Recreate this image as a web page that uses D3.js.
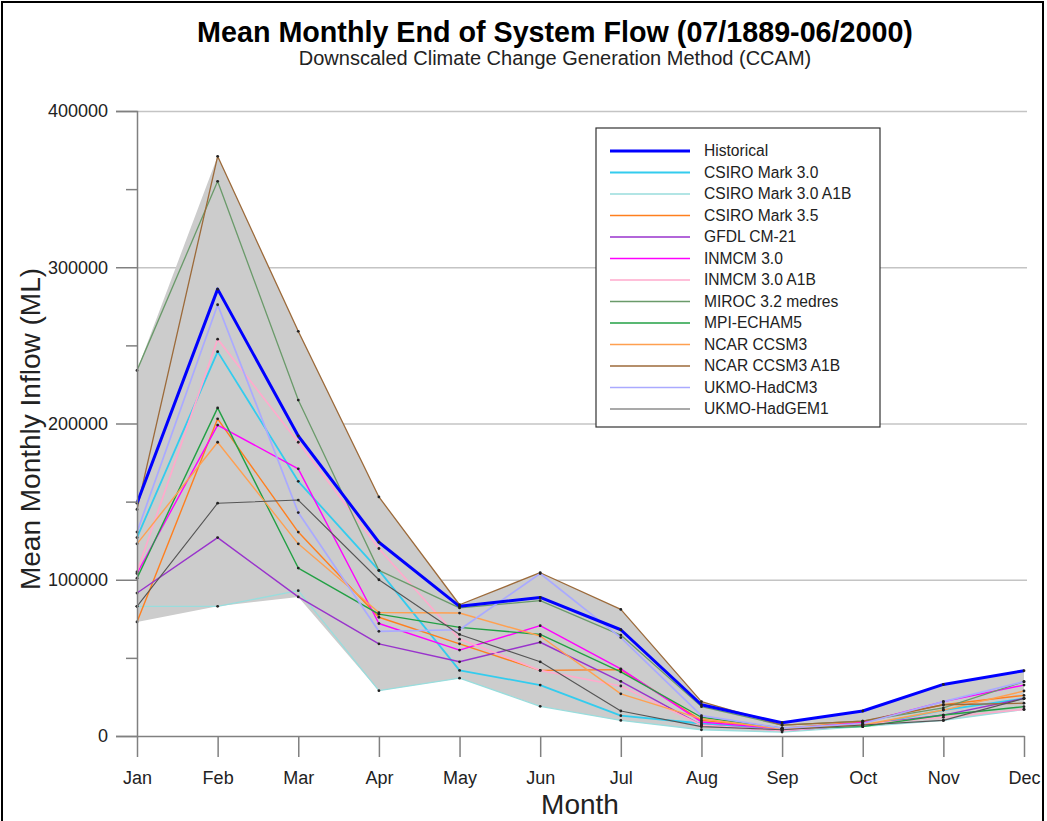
<!DOCTYPE html>
<html>
<head>
<meta charset="utf-8">
<script src="https://cdn.jsdelivr.net/npm/d3@7"></script>
<style>
  body { margin: 0; background: #fff; }
  svg { display: block; font-family: "Liberation Sans", Arial, sans-serif; }
</style>
</head>
<body>
<svg id="chart" width="1047" height="821"></svg>
<script>
// month categories
const months = ["Jan", "Feb", "Mar", "Apr", "May", "Jun", "Jul", "Aug", "Sep", "Oct", "Nov", "Dec"];

// mean monthly inflow (ML) per scenario
const historical = [149000, 286000, 192000, 124000, 83000, 88700, 68000, 20000, 8500, 16000, 33000, 41800];
const csiro30    = [127000, 246000, 163000, 106000, 42000, 32600, 13000, 8000, 4000, 6500, 16600, 24000];
const csiro30A1B = [83000, 83000, 93000, 29000, 37000, 19000, 10000, 4000, 2500, 6000, 10000, 17000];
const csiro35    = [73000, 203000, 130500, 76000, 59000, 42000, 42500, 10000, 5000, 9000, 20000, 26000];
const gfdl       = [91500, 127000, 89000, 59000, 47500, 60000, 35000, 7000, 3500, 7000, 13400, 24000];
const inmcm30    = [104000, 199000, 171000, 72000, 55000, 70600, 43000, 9000, 4500, 8500, 22000, 32600];
const inmcm30A1B = [105000, 254000, 188000, 120000, 62000, 42000, 32000, 7000, 3500, 7500, 12000, 17000];
const miroc      = [234000, 355000, 215000, 106000, 82000, 86600, 64600, 18800, 7000, 9500, 18000, 34800];
const mpi        = [101000, 210000, 107500, 78000, 69500, 65000, 41000, 12000, 5000, 6000, 13400, 18800];
const ncar       = [123000, 188000, 123000, 79000, 78700, 64000, 27000, 11000, 4500, 7000, 16600, 28800];
const ncarA1B    = [145000, 371000, 259000, 153000, 84000, 104500, 81000, 22000, 7000, 9500, 20000, 21000];
const hadcm3     = [130500, 276000, 143000, 67000, 68000, 104000, 63000, 13000, 5000, 8000, 22000, 34800];
const hadgem1    = [83000, 149000, 151000, 100000, 65000, 47500, 16000, 6000, 4000, 7000, 10000, 24000];

const seriesNames = [
  "Historical", "CSIRO Mark 3.0", "CSIRO Mark 3.0 A1B", "CSIRO Mark 3.5", "GFDL CM-21",
  "INMCM 3.0", "INMCM 3.0 A1B", "MIROC 3.2 medres", "MPI-ECHAM5", "NCAR CCSM3",
  "NCAR CCSM3 A1B", "UKMO-HadCM3", "UKMO-HadGEM1"
];
const seriesValues = [
  historical, csiro30, csiro30A1B, csiro35, gfdl, inmcm30, inmcm30A1B,
  miroc, mpi, ncar, ncarA1B, hadcm3, hadgem1
];
const yTicks = [0, 100000, 200000, 300000, 400000];
const yMinorTicks = [50000, 150000, 250000, 350000];

// styles
const colors = [
  "#0000ff", "#33ccee", "#99dddd", "#ff7f1e", "#9933cc", "#ff00ff", "#ffaacc",
  "#6a9a6a", "#22a044", "#ffa050", "#9c6a3a", "#aaaaff", "#555555"
];
const widths = [3, 1.8, 1.3, 1.4, 1.4, 1.4, 1.7, 1.3, 1.4, 1.4, 1.3, 1.7, 1.1];

const svg = d3.select("#chart");
const margin = { top: 111, left: 137 };
const plotW = 1024 - 137;
const plotH = 736 - 111;

const series = seriesNames.map((name, i) => ({
  name,
  color: colors[i],
  width: widths[i],
  values: seriesValues[i].map((v, j) => ({ month: months[j], value: v }))
}));

const x = d3.scalePoint().domain(months).range([0, plotW]);
const y = d3.scaleLinear().domain([0, 400000]).range([plotH, 0]);

const g = svg.append("g")
  .attr("transform", `translate(${margin.left},${margin.top})`);

// horizontal grid
g.append("g")
  .call(d3.axisLeft(y).tickValues(yTicks.slice(1)).tickSize(-(plotW + 3)).tickFormat(""))
  .call(s => s.select(".domain").remove())
  .selectAll("line")
  .attr("stroke", "#c4c4c4")
  .attr("stroke-width", 1.5);

// envelope of all scenarios
const envelope = months.map((m, j) => ({
  month: m,
  lo: d3.min(seriesValues, s => s[j]),
  hi: d3.max(seriesValues, s => s[j])
}));

g.append("path")
  .datum(envelope)
  .attr("fill", "#cccccc")
  .attr("d", d3.area()
    .x(d => x(d.month))
    .y0(d => y(d.lo))
    .y1(d => y(d.hi)));

// lines, historical on top
const drawOrder = series.slice(1).concat(series[0]);
const line = d3.line().x(d => x(d.month)).y(d => y(d.value));

drawOrder.forEach(s => {
  g.append("path")
    .datum(s.values)
    .attr("fill", "none")
    .attr("stroke", s.color)
    .attr("stroke-width", s.width)
    .attr("stroke-linejoin", "round")
    .attr("d", line);
});

// point markers
drawOrder.forEach(s => {
  g.selectAll(null)
    .data(s.values)
    .enter()
    .append("circle")
    .attr("cx", d => x(d.month))
    .attr("cy", d => y(d.value))
    .attr("r", 1.4)
    .attr("fill", "#222");
});

// y axis, major and minor ticks
const yAxisG = g.append("g")
  .call(d3.axisLeft(y).tickValues(yTicks).tickSize(21).tickPadding(8).tickFormat(d3.format("d")));
yAxisG.select(".domain").attr("stroke", "#808080").attr("stroke-width", 1.5);
yAxisG.selectAll("line").attr("stroke", "#808080").attr("stroke-width", 1.5);
yAxisG.selectAll("text").attr("font-size", 18).attr("fill", "#222");

g.append("g")
  .call(d3.axisLeft(y).tickValues(yMinorTicks).tickSize(11).tickFormat(""))
  .call(s => s.select(".domain").remove())
  .selectAll("line").attr("stroke", "#808080").attr("stroke-width", 1.5);

// x axis
const xAxisG = g.append("g")
  .attr("transform", `translate(0,${plotH})`)
  .call(d3.axisBottom(x).tickSize(21).tickPadding(14).tickSizeOuter(0));
xAxisG.select(".domain").attr("stroke", "#808080").attr("stroke-width", 1.5);
xAxisG.selectAll("line").attr("stroke", "#808080").attr("stroke-width", 1.5);
xAxisG.selectAll("text").attr("font-size", 18).attr("fill", "#222");

// titles
svg.append("text")
  .attr("x", 555).attr("y", 42)
  .attr("text-anchor", "middle")
  .attr("font-size", 28.7).attr("font-weight", "bold")
  .text("Mean Monthly End of System Flow (07/1889-06/2000)");

svg.append("text")
  .attr("x", 555).attr("y", 65)
  .attr("text-anchor", "middle")
  .attr("font-size", 20).attr("fill", "#222")
  .text("Downscaled Climate Change Generation Method (CCAM)");

svg.append("text")
  .attr("transform", "translate(40,429) rotate(-90)")
  .attr("text-anchor", "middle")
  .attr("font-size", 28).attr("fill", "#222")
  .text("Mean Monthly Inflow (ML)");

svg.append("text")
  .attr("x", 580).attr("y", 814)
  .attr("text-anchor", "middle")
  .attr("font-size", 28).attr("fill", "#222")
  .text("Month");

// legend
const legend = svg.append("g").attr("transform", "translate(596,128)");
legend.append("rect")
  .attr("width", 284).attr("height", 299)
  .attr("fill", "#fff")
  .attr("stroke", "#333").attr("stroke-width", 1.2);

const rows = legend.selectAll("g.row")
  .data(series)
  .enter()
  .append("g")
  .attr("class", "row")
  .attr("transform", (d, i) => `translate(0,${23 + i * 21.5})`);

rows.append("line")
  .attr("x1", 14).attr("x2", 94)
  .attr("stroke", d => d.color)
  .attr("stroke-width", d => d.width);

rows.append("text")
  .attr("x", 108).attr("dy", "0.35em")
  .attr("font-size", 15.6).attr("fill", "#222")
  .text(d => d.name);

// outer frame
svg.append("rect")
  .attr("x", 2).attr("y", 2)
  .attr("width", 1041).attr("height", 840)
  .attr("fill", "none")
  .attr("stroke", "#000").attr("stroke-width", 2);
</script>
</body>
</html>
